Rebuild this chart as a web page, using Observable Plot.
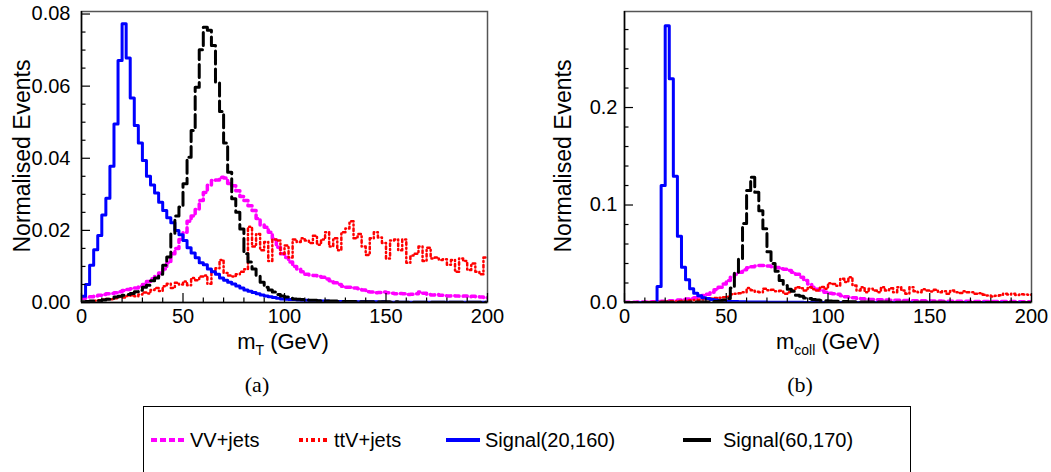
<!DOCTYPE html>
<html><head><meta charset="utf-8">
<script src="https://cdn.jsdelivr.net/npm/d3@7"></script>
<script src="https://cdn.jsdelivr.net/npm/@observablehq/plot@0.6"></script>
<style>
body{margin:0;background:#fff;}
#root{position:relative;width:1051px;height:472px;overflow:hidden;font-family:"Liberation Sans",Arial,sans-serif;color:#000;}
.lab{position:absolute;white-space:nowrap;color:#000;line-height:1;}
.panel{position:absolute;top:0;}
</style></head><body><div id="root"></div>
<script>
// ---------- data (2 GeV bins, 0-200 GeV) ----------
const binWidth = 2;
const xMajor = [0, 50, 100, 150, 200];
const xMinor = [10,20,30,40,60,70,80,90,110,120,130,140,160,170,180,190];

// panel (a): m_T
const vvA = [0.0012,0.0015,0.0016,0.0018,0.002, 0.0022,0.0024,0.0025,0.0027,0.003,
  0.0033,0.0036,0.0038,0.004,0.0045, 0.005,0.0058,0.0066,0.0072,0.0082,
  0.0093,0.011,0.0135,0.015,0.0175, 0.0195,0.0225,0.024,0.0258,0.0283,
  0.0305,0.0325,0.0338,0.034,0.0347, 0.0345,0.033,0.0324,0.031,0.0294,
  0.0283,0.0268,0.0255,0.0233,0.0215, 0.0209,0.0195,0.0177,0.0153,0.0135,
  0.0125,0.0112,0.0100,0.0093,0.0085, 0.0078,0.0076,0.0075,0.0072,0.0070,
  0.0065,0.006,0.0055,0.005,0.0045, 0.0042,0.0042,0.0040,0.0038,0.0035,
  0.0030,0.0029,0.0027,0.0028,0.0029, 0.0027,0.0026,0.0024,0.0025,0.0024,
  0.0022,0.0023,0.0024,0.0029,0.0026, 0.0022,0.0021,0.0022,0.002,0.0019,
  0.0018,0.0019,0.0018,0.0017,0.0018, 0.0016,0.0017,0.0016,0.0015,0.0013];
const ttvA = [0,0.0002,0.0003,0.0005,0.0006, 0.0008,0.001,0.0009,0.0012,0.0015,
  0.0014,0.0018,0.002,0.0017,0.0022, 0.0028,0.0025,0.0035,0.004,0.0032,
  0.0045,0.0052,0.004,0.0055,0.005, 0.0058,0.0048,0.0068,0.0062,0.0072,
  0.0075,0.0052,0.0085,0.0095,0.0118, 0.0082,0.0075,0.0072,0.0078,0.0085,
  0.0092,0.021,0.0155,0.019,0.0145, 0.0168,0.0115,0.0175,0.0172,0.0135,
  0.0158,0.0125,0.0175,0.0168,0.0178, 0.0172,0.0165,0.0185,0.016,0.0175,
  0.0195,0.0155,0.0178,0.0145,0.0195, 0.0205,0.0225,0.0178,0.019,0.0155,
  0.0132,0.0178,0.0195,0.018,0.0165, 0.0122,0.0172,0.0175,0.0145,0.0175,
  0.011,0.013,0.0135,0.0155,0.0115, 0.0152,0.0122,0.0125,0.0118,0.012,
  0.0105,0.0118,0.0085,0.0122,0.0115, 0.009,0.0108,0.0085,0.0078,0.0125];
const sig1A = [0.0017,0.005,0.0103,0.0146,0.0186, 0.0243,0.0289,0.0378,0.0495,0.0671,
  0.0773,0.0678,0.0567,0.0491,0.0442, 0.0394,0.035,0.0326,0.0304,0.0278,
  0.0255,0.0235,0.0221,0.02,0.0188, 0.0172,0.0152,0.0137,0.0124,0.011,
  0.0105,0.0093,0.0085,0.0078,0.0068, 0.0062,0.0056,0.0051,0.0046,0.004,
  0.0035,0.0031,0.0028,0.0024,0.0021, 0.0018,0.0016,0.0014,0.0012,0.001,
  0.0009,0.0008,0.0008,0.0007,0.0006, 0.0006,0.0005,0.0005,0.0004,0.0004,
  0.0004,0.0003,0.0003,0.0003,0.0003, 0.0003,0.0002,0.0002,0.0002,0.0002,
  0.0002,0.0002,0.0002,0.0001,0.0002, 0.0001,0.0001,0.0001,0.0001,0.0001,
  0.0001,0.0001,0.0001,0.0001,0.0001, 0.0001,0.0001,0.0001,0.0001,0.0001,
  0.0001,0.0001,0.0001,0.0001,0.0001, 0.0001,0.0001,0.0001,0.0001,0.0001];
const sig2A = [0.0002,0.0003,0.0004,0.0005,0.0005, 0.0007,0.0009,0.0012,0.0015,0.0017,
  0.002,0.0022,0.0025,0.003,0.0034, 0.0042,0.0048,0.006,0.0068,0.0078,
  0.0103,0.0126,0.019,0.024,0.0265, 0.0329,0.0403,0.0477,0.0597,0.0701,
  0.0763,0.0755,0.0713,0.0611,0.053, 0.0442,0.0361,0.0288,0.025,0.0204,
  0.0135,0.0112,0.0093,0.0075,0.0056, 0.0042,0.0035,0.0029,0.0022,0.0018,
  0.0015,0.0012,0.001,0.0009,0.0008, 0.0007,0.0006,0.0006,0.0005,0.0005,
  0.0004,0.0004,0.0004,0.0003,0.0003, 0.0003,0.0003,0.0003,0.0002,0.0002,
  0.0002,0.0002,0.0002,0.0002,0.0002, 0.0002,0.0001,0.0002,0.0001,0.0001,
  0.0001,0.0001,0.0001,0.0001,0.0001, 0.0001,0.0001,0.0001,0.0001,0.0001,
  0.0001,0.0001,0.0001,0.0001,0.0001, 0.0001,0.0001,0.0001,0.0001,0.0001];

// panel (b): m_coll
const vvB = [0.0002,0.0003,0.0003,0.0004,0.0005, 0.0006,0.0007,0.0008,0.001,0.0012,
  0.0014,0.0017,0.002,0.0025,0.003, 0.0035,0.0042,0.005,0.006,0.0072,
  0.0085,0.0106,0.013,0.0157,0.019, 0.0226,0.026,0.029,0.031,0.0335,
  0.0356,0.0368,0.0375,0.038,0.038, 0.0375,0.0368,0.036,0.0345,0.034,
  0.0328,0.031,0.029,0.026,0.0225, 0.019,0.0157,0.0135,0.012,0.0106,
  0.0095,0.009,0.0085,0.007,0.006, 0.0054,0.0048,0.0042,0.0038,0.0035,
  0.0032,0.003,0.0028,0.0027,0.0025, 0.0024,0.0023,0.0022,0.0021,0.002,
  0.0019,0.0018,0.0018,0.0017,0.0016, 0.0016,0.0015,0.0015,0.0014,0.0014,
  0.0013,0.0013,0.0012,0.0012,0.0012, 0.0011,0.0011,0.0011,0.001,0.001,
  0.001,0.001,0.0009,0.0009,0.0009, 0.0009,0.0008,0.0008,0.0008,0.0008];
const ttvB = [0,0,0.0002,0.0003,0.0003, 0.0005,0.0004,0.0006,0.0008,0.0007,
  0.001,0.0012,0.0011,0.0015,0.0018, 0.002,0.0022,0.0025,0.0028,0.003,
  0.0035,0.004,0.0045,0.005,0.0055, 0.006,0.0085,0.009,0.0095,0.0105,
  0.0148,0.0125,0.011,0.0105,0.014, 0.0125,0.013,0.0115,0.012,0.009,
  0.0106,0.0123,0.0157,0.0145,0.0123, 0.0157,0.0135,0.0123,0.016,0.014,
  0.0198,0.019,0.0172,0.0243,0.021, 0.026,0.0174,0.0123,0.0157,0.0106,
  0.014,0.0123,0.0106,0.0157,0.0123, 0.0145,0.0106,0.0157,0.0123,0.0089,
  0.0157,0.0115,0.0106,0.0135,0.0123, 0.0112,0.013,0.0106,0.0115,0.0089,
  0.0123,0.0106,0.0098,0.0115,0.0106, 0.0106,0.0089,0.0095,0.008,0.0072,
  0.0062,0.0068,0.0075,0.0089,0.0082, 0.0089,0.0078,0.0085,0.0082,0.008];
const sig1B = [0,0,0,0,0, 0,0,0,0.0164,0.12,
  0.284,0.2294,0.1296,0.068,0.0362, 0.0233,0.014,0.0096,0.0069,0.005,
  0.004,0.0032,0.0026,0.0021,0.0017, 0.0014,0.0011,0.0009,0.0008,0.0007,
  0.0006,0.0005,0.0005,0.0004,0.0004, 0.0003,0.0003,0.0003,0.0002,0.0002,
  0.0002,0.0002,0.0002,0.0002,0.0001, 0.0001,0.0001,0.0001,0.0001,0.0001,
  0.0001,0.0001,0.0001,0.0001,0.0001, 0.0001,0.0001,0.0001,0.0001,0.0001,
  0.0001,0.0001,0.0001,0.0001,0.0001, 0.0001,0.0001,0.0001,0.0001,0.0001,
  0.0001,0.0001,0.0001,0.0001,0.0001, 0.0001,0.0001,0.0001,0.0001,0.0001,
  0.0001,0.0001,0.0001,0.0001,0.0001, 0.0001,0.0001,0.0001,0.0001,0.0001,
  0.0001,0.0001,0.0001,0.0001,0.0001, 0.0001,0.0001,0.0001,0.0001,0.0001];
const sig2B = [0.0001,0.0001,0.0001,0.0001,0.0001, 0.0001,0.0001,0.0001,0.0002,0.0002,
  0.0002,0.0002,0.0003,0.0003,0.0003, 0.0003,0.0004,0.0004,0.0004,0.0005,
  0.0005,0.0008,0.001,0.0015,0.0025, 0.004,0.015,0.03,0.045,0.081,
  0.1149,0.1285,0.113,0.094,0.0756, 0.052,0.04,0.032,0.0226,0.0174,
  0.0135,0.0115,0.0075,0.0065,0.0045, 0.004,0.003,0.0025,0.002,0.0018,
  0.0015,0.0013,0.0012,0.001,0.0009, 0.0008,0.0007,0.0006,0.0006,0.0005,
  0.0005,0.0005,0.0004,0.0004,0.0004, 0.0003,0.0003,0.0003,0.0003,0.0003,
  0.0002,0.0002,0.0002,0.0002,0.0002, 0.0002,0.0002,0.0002,0.0002,0.0002,
  0.0001,0.0001,0.0001,0.0001,0.0001, 0.0001,0.0001,0.0001,0.0001,0.0001,
  0.0001,0.0001,0.0001,0.0001,0.0001, 0.0001,0.0001,0.0001,0.0001,0.0001];

const seriesNames = ["VV+jets", "ttV+jets", "Signal(20,160)", "Signal(60,170)"];
const seriesStyles = [
  {stroke: "#ff00ff", strokeWidth: 3.5, strokeDasharray: "5,4"},
  {stroke: "#ff0000", strokeWidth: 2.5, strokeDasharray: "2.5,3,1,3"},
  {stroke: "#0000ff", strokeWidth: 3},
  {stroke: "#000000", strokeWidth: 3, strokeDasharray: "13,5"}
];

// ---------- drawing ----------
function steps(vals) {
  const pts = vals.map((v, i) => ({x: i * binWidth, y: v}));
  pts.push({x: vals.length * binWidth, y: vals[vals.length - 1]});
  return pts;
}
const H = 330, MT = 11, MB = 28;
function panel({series, yMax, yMajor, yMinor, yFmt, width, mLeft, mRight, pad}) {
  const innerW = width - mLeft - mRight, innerH = H - MT - MB;
  return Plot.plot({
    width, height: H, marginLeft: mLeft, marginRight: mRight, marginTop: MT, marginBottom: MB,
    style: {fontFamily: '"Liberation Sans", Arial, sans-serif', fontSize: "20px", color: "#000", background: "transparent", overflow: "visible"},
    x: {domain: [0, 200]},
    y: {domain: [0, yMax]},
    marks: [
      ...series.map((vals, k) => Plot.line(steps(vals), {x: "x", y: "y", curve: "step-after", clip: true, ...seriesStyles[k]})),
      Plot.frame({stroke: "#555", strokeWidth: 1.5}),
      Plot.ruleX([0], {stroke: "#000", strokeWidth: 1.5}),
      Plot.ruleY([0], {stroke: "#000", strokeWidth: 1.5}),
      Plot.tickY(yMajor, {stroke: "#000", strokeWidth: 1.2, insetRight: innerW - 9}),
      Plot.tickY(yMinor, {stroke: "#000", strokeWidth: 1.2, insetRight: innerW - 4.5}),
      Plot.tickX(xMajor, {stroke: "#000", strokeWidth: 1.2, insetTop: innerH - 9}),
      Plot.tickX(xMinor, {stroke: "#000", strokeWidth: 1.2, insetTop: innerH - 4.5}),
      Plot.axisY(yMajor, {tickSize: 0, tickPadding: pad, tickFormat: yFmt, label: null}),
      Plot.axisX(xMajor, {tickSize: 0, tickPadding: 6, label: null})
    ]
  });
}

const root = document.getElementById("root");
function place(el, left) { el.classList.add("panel"); el.style.left = left + "px"; root.appendChild(el); }

place(panel({
  series: [vvA, ttvA, sig1A, sig2A], yMax: 0.0807,
  yMajor: [0, 0.02, 0.04, 0.06, 0.08],
  yMinor: [0.005,0.01,0.015,0.025,0.03,0.035,0.045,0.05,0.055,0.065,0.07,0.075],
  yFmt: d => d.toFixed(2), width: 540, mLeft: 81, mRight: 53, pad: 11
}), 0);
place(panel({
  series: [vvB, ttvB, sig1B, sig2B], yMax: 0.2985,
  yMajor: [0, 0.1, 0.2],
  yMinor: [0.02,0.04,0.06,0.08,0.12,0.14,0.16,0.18,0.22,0.24,0.26,0.28],
  yFmt: d => d.toFixed(1), width: 511, mLeft: 84, mRight: 20, pad: 7
}), 540);

function label(html, x, y, css) {
  const d = document.createElement("div");
  d.className = "lab"; d.innerHTML = html;
  d.style.left = x + "px"; d.style.top = y + "px";
  Object.assign(d.style, css || {});
  root.appendChild(d);
  return d;
}
const ytCss = {fontSize: "23px", transform: "translate(-50%,-50%) rotate(-90deg)"};
label("Normalised Events", 22, 156, ytCss);
label("Normalised Events", 563, 156, ytCss);
const xtCss = {fontSize: "22px", transform: "translate(-50%,-50%)"};
label('m<sub style="font-size:14px;vertical-align:-6px;line-height:1">T</sub> (GeV)', 283, 344, xtCss);
label('m<sub style="font-size:14px;vertical-align:-6px;line-height:1">coll</sub> (GeV)', 828, 344, xtCss);
const capCss = {fontSize: "22px", fontFamily: '"Liberation Serif", "DejaVu Serif", serif', transform: "translate(-50%,-50%)"};
label("(a)", 257, 385, capCss);
label("(b)", 800, 385, capCss);

// legend
const legend = document.createElement("div");
Object.assign(legend.style, {position: "absolute", left: "143px", top: "406px", width: "768px", height: "80px", border: "1.5px solid #000", boxSizing: "border-box"});
root.appendChild(legend);
const legendX = [151, 299, 446, 683];
const textX = [190, 334, 485, 723];
const sampleW = [34, 30, 34, 28];
seriesNames.forEach((name, k) => {
  const s = seriesStyles[k];
  const svg = d3.create("svg").attr("width", sampleW[k]).attr("height", 10)
    .style("position", "absolute").style("left", legendX[k] + "px").style("top", "435px");
  svg.append("line").attr("x1", 0).attr("x2", sampleW[k]).attr("y1", 5).attr("y2", 5)
    .attr("stroke", s.stroke).attr("stroke-width", 4)
    .attr("stroke-dasharray", k === 0 ? "6,3" : k === 1 ? "4,3,2,3" : null);
  root.appendChild(svg.node());
  label(name, textX[k], 440, {fontSize: "20px", transform: "translateY(-50%)"});
});
</script>
</body></html>
